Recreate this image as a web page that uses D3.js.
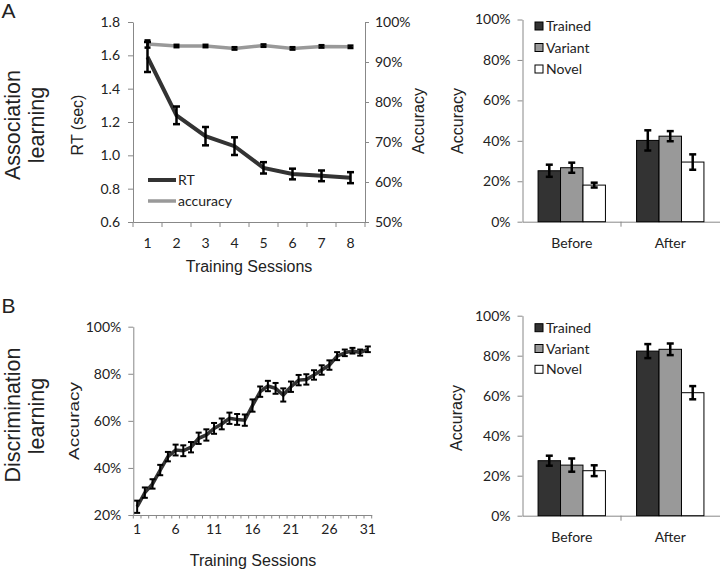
<!DOCTYPE html>
<html>
<head>
<meta charset="utf-8">
<script src="https://cdn.jsdelivr.net/npm/d3@7/dist/d3.min.js"></script>
<style>
body { margin: 0; background: #fff; }
.tick text { font-family: Lato, "Open Sans", sans-serif; font-size: 14px; fill: #222; }
.axis path, .axis line { stroke: #888; }
.ttl { font-family: "Liberation Sans", Arial, sans-serif; fill: #222; }
.leg { font-family: Lato, "Open Sans", sans-serif; font-size: 14px; fill: #222; }
</style>
</head>
<body>
<script>
// ---- data ----
var sessionsA = [1, 2, 3, 4, 5, 6, 7, 8];
var rt = [1.59, 1.24, 1.115, 1.055, 0.925, 0.888, 0.877, 0.866];
var rtErr = [0.09, 0.053, 0.055, 0.053, 0.034, 0.032, 0.032, 0.033];
var accA = [94.5, 94.0, 94.0, 93.4, 94.1, 93.4, 93.9, 93.8];
var accAErr = [0.9, 0.3, 0.3, 0.3, 0.3, 0.3, 0.3, 0.3];

var sessionsB = [1, 2, 3, 4, 5, 6, 7, 8, 9, 10, 11, 12, 13, 14, 15, 16,
                 17, 18, 19, 20, 21, 22, 23, 24, 25, 26, 27, 28, 29, 30, 31];
var accB = [23.5, 29.5, 33.2, 39.1, 44.8, 47.6, 47.3, 48.8, 52.6, 54.0, 56.8,
            58.7, 61.1, 60.6, 60.3, 66.5, 72.4, 74.8, 73.8, 71.0, 74.5, 77.3,
            77.6, 79.5, 81.6, 83.7, 87.5, 88.9, 89.8, 89.0, 90.4];
var accBErr = [2.6, 2.2, 2.0, 2.2, 2.0, 2.3, 2.3, 2.2, 2.4, 2.4, 2.3, 2.3, 2.4,
               2.3, 2.4, 2.6, 2.2, 2.2, 2.3, 2.8, 2.2, 2.2, 2.2, 2.0, 2.0, 2.0,
               1.7, 1.4, 1.2, 1.3, 1.2];
var ticksB = [1, 6, 11, 16, 21, 26, 31];

var phases = ["Before", "After"];
var stimuli = ["Trained", "Variant", "Novel"];
var stimColor = ["#333333", "#999999", "#ffffff"];
// rows = phase, cols = stimulus
var barA = [[25.2, 26.7, 18.1], [40.2, 42.3, 29.5]];
var barAErr = [[3.0, 2.5, 1.2], [5.0, 2.5, 3.8]];
var barB = [[27.5, 25.3, 22.5], [82.3, 83.2, 61.5]];
var barBErr = [[2.5, 3.3, 2.7], [3.5, 2.9, 3.3]];
var pctTicks = [0, 20, 40, 60, 80, 100];

var svg = d3.select("body").append("svg")
    .attr("width", 720).attr("height", 570);

function pct(d) { return d + "%"; }

// rotated axis title, x = baseline position
function vTitle(x, y, txt, size, len) {
    var t = svg.append("text").attr("class", "ttl")
        .attr("transform", "translate(" + x + "," + y + ") rotate(-90)")
        .attr("text-anchor", "middle")
        .style("font-size", size + "px")
        .text(txt);
    if (len) t.attr("textLength", len).attr("lengthAdjust", "spacingAndGlyphs");
}

function errBars(g, xs, lo, hi, cap, w) {
    var p = g.append("g").attr("stroke", "#000").attr("stroke-width", w);
    xs.forEach(function(x, i) {
        p.append("line").attr("x1", x).attr("x2", x).attr("y1", lo[i]).attr("y2", hi[i]);
        p.append("line").attr("x1", x - cap / 2).attr("x2", x + cap / 2).attr("y1", lo[i]).attr("y2", lo[i]);
        p.append("line").attr("x1", x - cap / 2).attr("x2", x + cap / 2).attr("y1", hi[i]).attr("y2", hi[i]);
    });
}

// band-scale x axis: labels at centres, marks at the boundaries
function bandAxis(x, y0, labels, pad, tlen) {
    var ax = svg.append("g").attr("class", "axis")
        .attr("transform", "translate(0," + y0 + ")")
        .call(d3.axisBottom(x).tickValues(labels).tickSize(0).tickPadding(pad).tickSizeOuter(0));
    var edges = x.domain().map(function(d) { return x(d); });
    edges.push(x.range()[1]);
    ax.selectAll(".edge").data(edges).enter().append("line")
        .attr("class", "edge").attr("stroke", "#888")
        .attr("x1", function(d) { return d; }).attr("x2", function(d) { return d; })
        .attr("y1", 0).attr("y2", tlen);
    return ax;
}

// ================= A: line chart =================
var xA = d3.scaleBand().domain(sessionsA).range([133, 365]);
var yRT = d3.scaleLinear().domain([0.6, 1.8]).range([222, 22]);
var yAcc = d3.scaleLinear().domain([50, 100]).range([222, 22]);

svg.append("g").attr("class", "axis").attr("transform", "translate(133,0)")
    .call(d3.axisLeft(yRT).tickValues([0.6, 0.8, 1.0, 1.2, 1.4, 1.6, 1.8])
        .tickFormat(d3.format(".1f")).tickSize(5).tickPadding(8).tickSizeOuter(0));
svg.append("g").attr("class", "axis").attr("transform", "translate(365,0)")
    .call(d3.axisRight(yAcc).tickValues([50, 60, 70, 80, 90, 100])
        .tickFormat(pct).tickSize(4).tickPadding(6).tickSizeOuter(0));
bandAxis(xA, 222, sessionsA, 16, 5);

var cxA = sessionsA.map(function(d) { return xA(d) + xA.bandwidth() / 2; });

var line = d3.line().x(function(d) { return d[0]; }).y(function(d) { return d[1]; });

svg.append("path")
    .attr("d", line(cxA.map(function(x, i) { return [x, yAcc(accA[i])]; })))
    .attr("fill", "none").attr("stroke", "#999").attr("stroke-width", 3.5);
errBars(svg, cxA,
    accA.map(function(v, i) { return yAcc(v - accAErr[i]); }),
    accA.map(function(v, i) { return yAcc(v + accAErr[i]); }), 6, 2.5);

svg.append("path")
    .attr("d", line(cxA.map(function(x, i) { return [x, yRT(rt[i])]; })))
    .attr("fill", "none").attr("stroke", "#333").attr("stroke-width", 4);
errBars(svg, cxA,
    rt.map(function(v, i) { return yRT(v - rtErr[i]); }),
    rt.map(function(v, i) { return yRT(v + rtErr[i]); }), 7, 2.5);

// legend
svg.append("line").attr("x1", 148).attr("x2", 176).attr("y1", 180).attr("y2", 180)
    .attr("stroke", "#333").attr("stroke-width", 4);
svg.append("text").attr("class", "leg").attr("x", 178).attr("y", 185).text("RT");
svg.append("line").attr("x1", 148).attr("x2", 176).attr("y1", 201).attr("y2", 201)
    .attr("stroke", "#999").attr("stroke-width", 3.5);
svg.append("text").attr("class", "leg").attr("x", 178).attr("y", 206).text("accuracy");

svg.append("text").attr("class", "ttl").attr("x", 249).attr("y", 272)
    .attr("text-anchor", "middle").style("font-size", "16px").text("Training Sessions");
vTitle(83, 125, "RT (sec)", 16);
vTitle(424, 121, "Accuracy", 16);

// ================= bar charts =================
function barChart(y0, y1, vals, errs, legY, legGap, labPad) {
    var x = d3.scaleBand().domain(phases).range([522.5, 719.5])
        .paddingInner(0.316).paddingOuter(0.158);
    var xs = d3.scaleBand().domain(stimuli).range([0, x.bandwidth()]);
    var y = d3.scaleLinear().domain([0, 100]).range([y0, y1]);

    svg.append("g").attr("class", "axis").attr("transform", "translate(522.5,0)")
        .call(d3.axisLeft(y).tickValues(pctTicks).tickFormat(pct)
            .tickSize(5).tickPadding(7).tickSizeOuter(0));
    var ax = svg.append("g").attr("class", "axis").attr("transform", "translate(0," + y0 + ")")
        .call(d3.axisBottom(x).tickSize(0).tickPadding(labPad).tickSizeOuter(0));
    ax.append("line").attr("x1", x.step() + 522.5).attr("x2", x.step() + 522.5)
        .attr("y1", 0).attr("y2", 5).attr("stroke", "#888");

    var g = svg.append("g");
    phases.forEach(function(ph, pi) {
        g.selectAll(".b" + pi).data(vals[pi]).enter().append("rect")
            .attr("x", function(d, i) { return x(ph) + xs(stimuli[i]); })
            .attr("y", function(d) { return y(d); })
            .attr("width", xs.bandwidth())
            .attr("height", function(d) { return y0 - y(d); })
            .attr("fill", function(d, i) { return stimColor[i]; })
            .attr("stroke", "#000").attr("stroke-width", 1);
        errBars(g, stimuli.map(function(s) { return x(ph) + xs(s) + xs.bandwidth() / 2; }),
            vals[pi].map(function(v, i) { return y(v - errs[pi][i]); }),
            vals[pi].map(function(v, i) { return y(v + errs[pi][i]); }), 7, 2.5);
    });

    stimuli.forEach(function(s, i) {
        svg.append("rect").attr("x", 535).attr("y", legY + i * legGap - 4)
            .attr("width", 8).attr("height", 8)
            .attr("fill", stimColor[i]).attr("stroke", "#000").attr("stroke-width", 1);
        svg.append("text").attr("class", "leg").attr("x", 546).attr("y", legY + i * legGap + 5).text(s);
    });
}

barChart(221.7, 19.5, barA, barAErr, 26, 21.5, 16);
vTitle(463, 121, "Accuracy", 16);

barChart(515.7, 315.7, barB, barBErr, 327.7, 20.8, 16);
vTitle(461.5, 418, "Accuracy", 16);

// ================= B: line chart =================
var xB = d3.scaleBand().domain(sessionsB).range([133.3, 371.7]);
var yB = d3.scaleLinear().domain([20, 100]).range([515, 326.7]);

svg.append("g").attr("class", "axis").attr("transform", "translate(133.3,0)")
    .call(d3.axisLeft(yB).tickValues([20, 40, 60, 80, 100]).tickFormat(pct)
        .tickSize(5).tickPadding(7).tickSizeOuter(0));
bandAxis(xB, 515, ticksB, 9, 3.5);

var cxB = sessionsB.map(function(d) { return xB(d) + xB.bandwidth() / 2; });
svg.append("path")
    .attr("d", line(cxB.map(function(x, i) { return [x, yB(accB[i])]; })))
    .attr("fill", "none").attr("stroke", "#333").attr("stroke-width", 3.5);
errBars(svg, cxB,
    accB.map(function(v, i) { return yB(v - accBErr[i]); }),
    accB.map(function(v, i) { return yB(v + accBErr[i]); }), 6, 2);

svg.append("text").attr("class", "ttl").attr("x", 253).attr("y", 566)
    .attr("text-anchor", "middle").style("font-size", "16px").text("Training Sessions");
vTitle(79, 421, "Accuracy", 14, 78);

// ================= panel labels =================
svg.append("text").attr("class", "ttl").attr("x", 1.5).attr("y", 18.3)
    .style("font-size", "21px").text("A");
svg.append("text").attr("class", "ttl").attr("x", 1.5).attr("y", 313.3)
    .style("font-size", "21px").text("B");
vTitle(19.5, 125, "Association", 21.5);
vTitle(44, 125, "learning", 21.5);
vTitle(19.5, 415, "Discrimination", 21.5);
vTitle(44, 416, "learning", 21.5);
</script>
</body>
</html>
